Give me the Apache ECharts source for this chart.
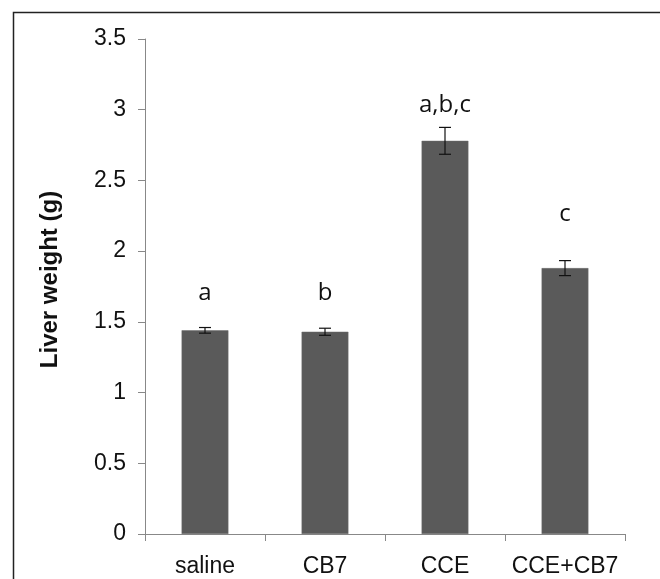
<!DOCTYPE html>
<html>
<head>
<meta charset="utf-8">
<script src="https://cdn.jsdelivr.net/npm/echarts@6/dist/echarts.min.js"></script>
<style>
  html, body { margin: 0; padding: 0; background: #fff; }
  #main { width: 660px; height: 579px; }
</style>
</head>
<body>
<div id="main"></div>
<script>
// groups and measured values
const groups = ['saline', 'CB7', 'CCE', 'CCE+CB7']
const liverWeight = [1.44, 1.43, 2.78, 1.88]
const errs = [0.02, 0.025, 0.095, 0.053]
const letters = ['a', 'b', 'a,b,c', 'c']
const letterLevels = [1.70, 1.70, 3.03, 2.26]
const yTicks = [0, 0.5, 1, 1.5, 2, 2.5, 3, 3.5]

let chart = echarts.init(document.getElementById('main'))

let errData = groups.map((g, i) => [i, liverWeight[i] - errs[i], liverWeight[i] + errs[i]])
let letterData = groups.map((g, i) => [i, letterLevels[i], letters[i]])

let option = {
  animation: false,
  backgroundColor: '#fff',
  graphic: [{
    type: 'rect',
    left: 11, top: 10,
    shape: { width: 700, height: 620 },
    style: { fill: 'none', stroke: '#222', lineWidth: 1.5 },
    silent: true
  }],
  grid: { left: 145, right: 35, top: 39, bottom: 45 },
  xAxis: {
    type: 'category',
    data: groups,
    axisLine: { lineStyle: { color: '#888', width: 1 } },
    axisTick: { show: true, length: 7, lineStyle: { color: '#888' } },
    axisLabel: { interval: 0, hideOverlap: false, color: '#111', fontSize: 23, fontFamily: 'Liberation Sans', margin: 21 },
    splitLine: { show: false }
  },
  yAxis: {
    type: 'value',
    min: yTicks[0],
    max: yTicks[yTicks.length - 1],
    interval: 0.5,
    name: 'Liver weight (g)',
    nameLocation: 'middle',
    nameGap: 83,
    nameTextStyle: { color: '#111', fontSize: 24, fontWeight: 'bold', fontFamily: 'Liberation Sans', padding: [0, 0, 0, 14] },
    axisLine: { show: true, lineStyle: { color: '#888', width: 1 } },
    axisTick: { show: true, length: 7, lineStyle: { color: '#888' } },
    axisLabel: { color: '#111', fontSize: 23, fontFamily: 'Liberation Sans', margin: 19 },
    splitLine: { show: false }
  },
  series: [
    {
      type: 'bar',
      data: liverWeight,
      barWidth: '39%',
      itemStyle: { color: '#5a5a5a', borderColor: '#6a6a6a', borderWidth: 0.5 }
    },
    {
      type: 'custom',
      data: errData,
      z: 5,
      renderItem: (params, api) => {
        let x = api.value(0)
        let lo = api.coord([x, api.value(1)])
        let hi = api.coord([x, api.value(2)])
        let w = 6
        let st = { stroke: '#111', lineWidth: 1.2 }
        return {
          type: 'group',
          children: [
            { type: 'line', shape: { x1: lo[0], y1: lo[1], x2: hi[0], y2: hi[1] }, style: st },
            { type: 'line', shape: { x1: lo[0] - w, y1: lo[1], x2: lo[0] + w, y2: lo[1] }, style: st },
            { type: 'line', shape: { x1: hi[0] - w, y1: hi[1], x2: hi[0] + w, y2: hi[1] }, style: st }
          ]
        }
      }
    },
    {
      type: 'custom',
      data: letterData,
      z: 6,
      renderItem: (params, api) => {
        let p = api.coord([api.value(0), api.value(1)])
        return {
          type: 'text',
          x: p[0], y: p[1],
          style: {
            text: letters[params.dataIndex],
            fill: '#111',
            font: '24px "Open Sans"',
            align: 'center',
            verticalAlign: 'middle'
          }
        }
      }
    }
  ]
}
chart.setOption(option)
window.addEventListener('resize', () => {
  chart.resize()
})
</script>
</body>
</html>
